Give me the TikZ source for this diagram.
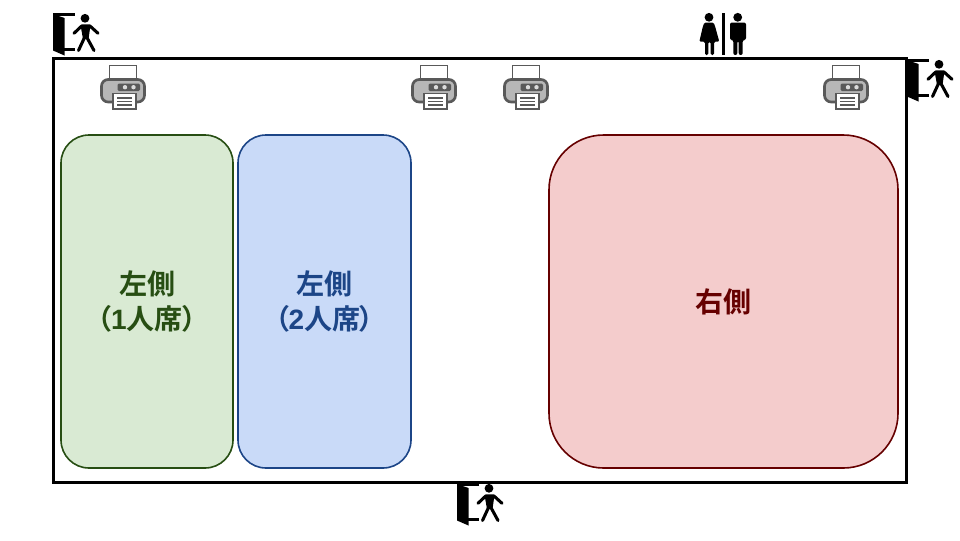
\documentclass[tikz,border=0pt]{standalone}
\usepackage{fontspec}
\setmainfont{Liberation Sans}[BoldFont={Liberation Sans Bold}]
\newfontfamily\cjk{Noto Sans CJK JP}[BoldFont={Noto Sans CJK JP Bold}]
\definecolor{gfill}{HTML}{D9EAD3}\definecolor{gline}{HTML}{274E13}
\definecolor{bfill}{HTML}{C9DAF8}\definecolor{bline}{HTML}{1C4587}
\definecolor{rfill}{HTML}{F4CCCC}\definecolor{rline}{HTML}{660000}
\definecolor{prgray}{HTML}{B7B7B7}\definecolor{prline}{HTML}{595959}
\tikzset{
  x=0.75pt,y=-0.75pt,
  seat/.style={draw,line width=1.2pt,inner sep=0pt,align=center,font=\cjk\bfseries\fontsize{21}{26.5}\selectfont},
  limb/.style={line width=2.3pt,line cap=round,line join=round,black},
  exiticon/.pic={
    \fill[black] (0,1) -- (11.5,5) -- (11.5,42.5) -- (0,37.5) -- cycle;
    \draw[black,line width=2pt] (0,1.3) -- (22,1.3);
    \draw[black,line width=1.8pt] (10,36.5) -- (22,36.5);
    \fill[black] (32,5.3) circle (4.4);
    \fill[black] (27.5,12) -- (37.5,12) -- (35.5,26) -- (30,26) -- cycle;
    \draw[limb] (21,20.3) -- (28.7,13) -- (37,13) -- (45,20.3);
    \draw[limb] (31.3,25) -- (25.5,37.5);
    \draw[limb] (34.2,25) -- (41,37.5);
  },
  printericon/.pic={
    \draw[prline,fill=white,line width=1.4pt] (9.5,1.5) rectangle (36.5,17);
    \draw[prline,fill=prgray,line width=2pt,rounded corners=5pt] (1.5,15.5) rectangle (44.5,38);
    \fill[prline,rounded corners=1pt] (17.5,19.5) rectangle (40,27);
    \fill[prgray!50!white] (25,23.2) circle (2.2) (33.5,23.2) circle (2.2);
    \draw[prline,fill=white,line width=1.4pt] (13,29.5) rectangle (36,45);
    \draw[prline,line width=1pt] (17,34) -- (32,34) (17,37.5) -- (32,37.5) (17,41) -- (32,41);
  },
  wcicon/.pic={
    % divider
    \fill[black] (22,0) rectangle (24.7,42);
    % woman
    \fill[black] (9,4.3) circle (4.4);
    \fill[black,rounded corners=1pt] (4.5,9.5) -- (13.5,9.5) -- (15,13) -- (19.3,28.7) -- (14,28.7) -- (14,42) -- (10.7,42) -- (10.7,29) -- (8.3,29) -- (8.3,42) -- (5,42) -- (5,28.7) -- (-0.7,28.7) -- (3,13) -- cycle;
    % man
    \fill[black] (37.7,4.3) circle (4.4);
    \fill[black,rounded corners=1.5pt] (30,9.5) -- (46,9.5) -- (46,27) -- (42.7,27) -- (42.7,42) -- (38.7,42) -- (38.7,28) -- (37.3,28) -- (37.3,42) -- (33.3,42) -- (33.3,27) -- (30,27) -- cycle;
  }
}
\begin{document}
\begin{tikzpicture}
\useasboundingbox (0,0) rectangle (960,540);
\fill[white] (0,0) rectangle (960,540);
\node[draw=black,line width=2.25pt,minimum width=853*0.75pt,minimum height=424*0.75pt,inner sep=0pt] (room) at (479.5,270) {};
\node[seat,draw=gline,fill=gfill,text=gline,rounded corners=21pt,minimum width=172*0.75pt,minimum height=333*0.75pt] (left1) at (147,301.5) {左側\\（\kern-1.2pt{\fontspec{Liberation Sans Bold}1}人席\kern-1.2pt）};
\node[seat,draw=bline,fill=bfill,text=bline,rounded corners=21pt,minimum width=173*0.75pt,minimum height=333*0.75pt] (left2) at (324.5,301.5) {左側\\（\kern-1.2pt{\fontspec{Liberation Sans Bold}2}人席\kern-1.2pt）};
\node[seat,draw=rline,fill=rfill,text=rline,rounded corners=41pt,minimum width=349*0.75pt,minimum height=333*0.75pt] (right) at (723.5,301.5) {右側};
\pic at (100,64) {printericon};
\pic at (411,64) {printericon};
\pic at (503,64) {printericon};
\pic at (823,64) {printericon};
\pic at (53,13) {exiticon};
\pic at (907,59) {exiticon};
\pic at (457,483) {exiticon};
\pic at (700,13) {wcicon};
\end{tikzpicture}
\end{document}
